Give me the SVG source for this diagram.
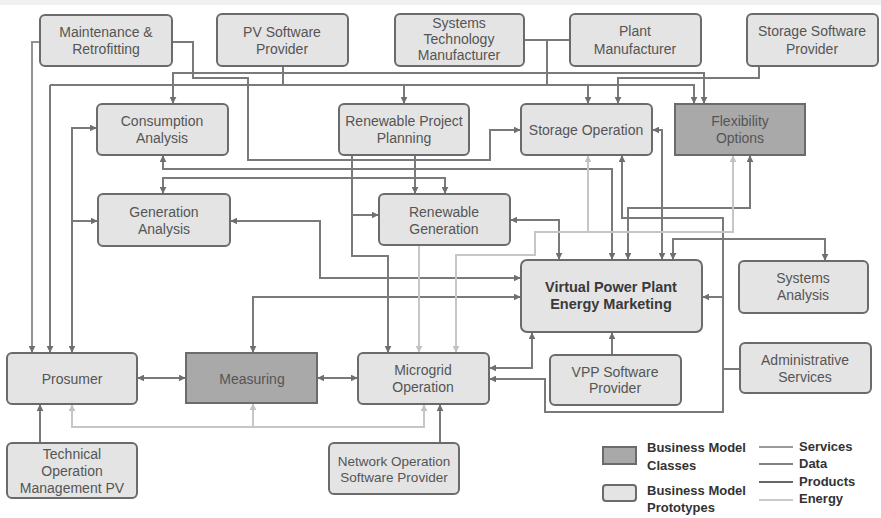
<svg xmlns="http://www.w3.org/2000/svg" width="881" height="518" viewBox="0 0 881 518">
<defs>
<marker id="ad" viewBox="0 0 10 10" refX="9" refY="5" markerWidth="7" markerHeight="7" markerUnits="userSpaceOnUse" orient="auto-start-reverse"><path d="M0,0 L10,5 L0,10 z" fill="#6f6f6f"/></marker>
<marker id="al" viewBox="0 0 10 10" refX="9" refY="5" markerWidth="7" markerHeight="7" markerUnits="userSpaceOnUse" orient="auto-start-reverse"><path d="M0,0 L10,5 L0,10 z" fill="#c2c2c2"/></marker>
<style>
.n rect{fill:#e4e4e4;stroke:#6b6b6b;stroke-width:2}
.k rect{fill:#a9a9a9;stroke:#6b6b6b;stroke-width:2}
.n text,.k text{font-family:"Liberation Sans",Arial,sans-serif;font-size:14px;fill:#555;text-anchor:middle}
.b text{font-weight:bold;fill:#3a3a3a;font-size:14.5px}
.c{fill:none;stroke:#7a7a7a;stroke-width:2}
.s{fill:none;stroke:#939393;stroke-width:2}
.e{fill:none;stroke:#c6c6c6;stroke-width:2}
.m{marker-end:url(#ad)}
.mm{marker-start:url(#ad);marker-end:url(#ad)}
.lm{marker-end:url(#al)}
.lmm{marker-start:url(#al);marker-end:url(#al)}
.lg{font-family:"Liberation Sans",Arial,sans-serif;font-size:13px;font-weight:bold;fill:#333}
</style>
</defs>
<rect x="0" y="0" width="881" height="518" fill="#fff"/>
<rect x="0" y="0" width="881" height="5" fill="#f1f1f1"/>

<g id="connectors">
<path class="s m" d="M40,42 H32 V352"/>
<path class="c m" d="M172,42 H193 V78 H248 V160 H490 V130 H520"/>
<path class="c m" d="M50,85 V352"/>
<path class="c m" d="M50,85 H694 V103"/>
<path class="c" d="M283,66 V85"/>
<path class="c m" d="M404,85 V103"/>
<path class="c" d="M524,40 H570 M547,40 V85"/>
<path class="c m" d="M588,85 V103"/>
<path class="c mm" d="M173,103 V73 H704 V103"/>
<path class="c m" d="M759,66 V78 H618 V103"/>
<path class="c mm" d="M96,128 H72 V352"/>
<path class="c m" d="M72,221 H97"/>
<path class="c mm" d="M163,156 V169 H612 V259"/>
<path class="c mm" d="M163,193 V178 H445 V193"/>
<path class="c m" d="M415,155 V193"/>
<path class="c m" d="M352,155 V256 H388 V352"/>
<path class="c m" d="M352,215 H378"/>
<path class="c mm" d="M231,221 H320 V278 H520"/>
<path class="c mm" d="M253,352 V297 H520"/>
<path class="c mm" d="M511,220 H559 V259"/>
<path class="c mm" d="M653,130 H662 V259"/>
<path class="c mm" d="M750,156 V208 H628 V259"/>
<path class="c mm" d="M673,259 V239 H825 V260"/>
<path class="c mm" d="M622,156 V218 H723 V412 H545 V379 H490"/>
<path class="c m" d="M723,297 H703"/>
<path class="c" d="M740,369 H723"/>
<path class="c mm" d="M532,333 V368 H490"/>
<path class="c m" d="M612,354 V333"/>
<path class="c mm" d="M138,378 H185"/>
<path class="c mm" d="M318,378 H357"/>
<path class="c m" d="M40,443 V405"/>
<path class="c m" d="M440,443 V405"/>
<path class="e lm" d="M419,246 V352"/>
<path class="e lmm" d="M456,352 V255 H535 V232 H733 V156"/>
<path class="e lm" d="M588,232 V156"/>
<path class="e lmm" d="M72,405 V427 H424 V405"/>
<path class="e lm" d="M253,427 V404"/>
</g>

<g id="maintenance" class="n"><rect x="40" y="15" width="132" height="51" rx="5"/><text x="106" y="37">Maintenance &amp;</text><text x="106" y="54">Retrofitting</text></g>
<g id="pv-software" class="n"><rect x="217" y="14" width="131" height="52" rx="5"/><text x="282" y="37">PV Software</text><text x="282" y="54">Provider</text></g>
<g id="systems-tech" class="n"><rect x="395" y="14" width="129" height="52" rx="5"/><text x="459" y="28">Systems</text><text x="459" y="44">Technology</text><text x="459" y="60">Manufacturer</text></g>
<g id="plant" class="n"><rect x="570" y="14" width="131" height="52" rx="5"/><text x="635" y="36">Plant</text><text x="635" y="54">Manufacturer</text></g>
<g id="storage-software" class="n"><rect x="747" y="14" width="131" height="52" rx="5"/><text x="812" y="36">Storage Software</text><text x="812" y="54">Provider</text></g>
<g id="consumption" class="n"><rect x="97" y="104" width="131" height="51" rx="5"/><text x="162" y="126">Consumption</text><text x="162" y="143">Analysis</text></g>
<g id="rpp" class="n"><rect x="339" y="104" width="130" height="51" rx="5"/><text x="404" y="126">Renewable Project</text><text x="404" y="143">Planning</text></g>
<g id="storage-op" class="n"><rect x="521" y="104" width="131" height="51" rx="5"/><text x="586" y="135">Storage Operation</text></g>
<g id="flexibility" class="k"><rect x="675" y="104" width="130" height="51"/><text x="740" y="126">Flexibility</text><text x="740" y="143">Options</text></g>
<g id="generation" class="n"><rect x="98" y="194" width="132" height="52" rx="5"/><text x="164" y="217">Generation</text><text x="164" y="234">Analysis</text></g>
<g id="renewable-gen" class="n"><rect x="379" y="194" width="131" height="51" rx="5"/><text x="444" y="217">Renewable</text><text x="444" y="234">Generation</text></g>
<g id="vpp" class="n b"><rect x="521" y="260" width="181" height="72" rx="6"/><text x="611" y="292">Virtual Power Plant</text><text x="611" y="309">Energy Marketing</text></g>
<g id="systems-analysis" class="n"><rect x="739" y="261" width="129" height="52" rx="5"/><text x="803" y="283">Systems</text><text x="803" y="300">Analysis</text></g>
<g id="prosumer" class="n"><rect x="7" y="353" width="130" height="51" rx="5"/><text x="72" y="384">Prosumer</text></g>
<g id="measuring" class="k"><rect x="186" y="353" width="131" height="50"/><text x="252" y="384">Measuring</text></g>
<g id="microgrid" class="n"><rect x="358" y="353" width="131" height="51" rx="5"/><text x="423" y="375">Microgrid</text><text x="423" y="392">Operation</text></g>
<g id="vpp-software" class="n"><rect x="550" y="355" width="131" height="50" rx="5"/><text x="615" y="377">VPP Software</text><text x="615" y="393">Provider</text></g>
<g id="admin" class="n"><rect x="740" y="343" width="131" height="50" rx="5"/><text x="805" y="365">Administrative</text><text x="805" y="382">Services</text></g>
<g id="tom-pv" class="n"><rect x="7" y="443" width="130" height="55" rx="5"/><text x="72" y="459">Technical</text><text x="72" y="476">Operation</text><text x="72" y="493">Management PV</text></g>
<g id="network-op" class="n"><rect x="329" y="443" width="130" height="51" rx="5"/><text x="394" y="466" style="font-size:13.5px">Network Operation</text><text x="394" y="482" style="font-size:13.5px">Software Provider</text></g>

<g id="legend">
<rect x="603" y="447" width="33" height="17" fill="#a9a9a9" stroke="#6b6b6b" stroke-width="2"/>
<rect x="603" y="485" width="33" height="16" rx="3" fill="#e4e4e4" stroke="#6b6b6b" stroke-width="2"/>
<text class="lg" x="647" y="452">Business Model</text>
<text class="lg" x="647" y="470">Classes</text>
<text class="lg" x="647" y="495">Business Model</text>
<text class="lg" x="647" y="512">Prototypes</text>
<path d="M759,447 H793" stroke="#9a9a9a" stroke-width="2"/>
<path d="M759,464 H793" stroke="#808080" stroke-width="2"/>
<path d="M759,482 H793" stroke="#666" stroke-width="2"/>
<path d="M759,500 H793" stroke="#cacaca" stroke-width="2"/>
<text class="lg" x="799" y="451">Services</text>
<text class="lg" x="799" y="468">Data</text>
<text class="lg" x="799" y="486">Products</text>
<text class="lg" x="799" y="503">Energy</text>
</g>
</svg>
